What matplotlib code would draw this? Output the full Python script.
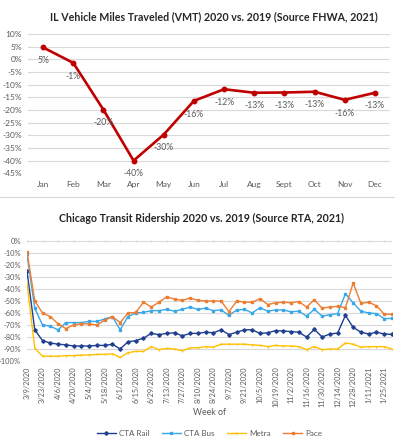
import matplotlib.pyplot as plt
from matplotlib.lines import Line2D

# --- IL VMT data (2020 vs 2019, %) ---
months = ["Jan", "Feb", "Mar", "Apr", "May", "Jun", "Jul", "Aug", "Sept", "Oct", "Nov", "Dec"]
vmt = [4.7, -1.4, -19.9, -40.0, -29.7, -16.4, -11.8, -13.2, -13.1, -12.8, -16.0, -13.2]

# --- Chicago transit ridership (weekly, 2020 vs 2019, %) ---
week_labels = ["3/9/2020", "3/23/2020", "4/6/2020", "4/20/2020", "5/4/2020", "5/18/2020",
               "6/1/2020", "6/15/2020", "6/29/2020", "7/13/2020", "7/27/2020", "8/10/2020",
               "8/24/2020", "9/7/2020", "9/21/2020", "10/5/2020", "10/19/2020", "11/2/2020",
               "11/16/2020", "11/30/2020", "12/14/2020", "12/28/2020", "1/11/2021", "1/25/2021"]

cta_rail = [-25, -74, -83, -85, -86, -86.5, -87.5, -87.5, -87.5, -87, -87, -86, -90, -84, -83, -81,
            -77, -78, -77, -76.5, -79, -77, -77, -76, -76.5, -74, -78, -76, -74, -74, -77, -76.5,
            -74.7, -75, -75.5, -76, -80, -73.6, -80, -77.5, -76.7, -62, -72, -76, -77.5, -76, -77.5, -77.8]
cta_bus = [-11, -56, -70, -71, -74, -68, -68, -68, -67, -67, -65, -63, -74, -63, -60, -59.5,
           -58, -58, -57, -58.5, -57, -55, -57, -56, -58, -57.5, -62, -57.5, -57, -60, -55.5, -58.5,
           -57.5, -57.5, -59, -58.5, -62.5, -57, -62.5, -61.5, -60.5, -44, -51.5, -58.5, -60, -60.5, -64.7, -64.5]
metra = [-35, -89.5, -96, -96, -96, -95.5, -95.5, -95, -95, -94.5, -94.5, -94, -97, -93, -92, -92,
         -88, -90.5, -89.5, -90, -91.5, -89, -89, -88, -88.5, -86, -86, -86, -86, -86.5, -87, -88,
         -87, -87.5, -87.5, -88, -90.5, -88, -90.5, -90, -90, -85, -86, -88.5, -88, -88, -88, -90]
pace = [-9, -50, -60, -63, -69, -73, -70, -69, -69, -70, -66, -63, -68, -60, -59.5, -51,
        -55, -51, -46.5, -48.5, -49.5, -47.5, -49.5, -50, -50, -50, -59, -50, -51, -51, -48, -53,
        -51.5, -51, -51.5, -50.5, -55, -49, -56, -55, -54.5, -55.5, -35, -52, -51, -54, -61, -61]

plt.rcParams['font.family'] = ['Lato', 'DejaVu Sans']
grey = '#595959'
grid = '#D9D9D9'

fig = plt.figure(figsize=(3.95, 4.43), dpi=100)

# ---------- top chart ----------
ax1 = fig.add_axes([28/395, 1-173.3/443, 362/395, 139.3/443])
xs = list(range(len(months)))
ax1.plot(xs, vmt, color='#C00000', lw=1.9, marker='o', ms=3.2, zorder=3)
for x, v in zip(xs, vmt):
    ax1.annotate(f"{round(v):d}%", (x, v), xytext=(0, -9.5), textcoords='offset points',
                 ha='center', va='center', fontsize=6.2, color=grey)
ax1.set_xlim(-0.5, 11.5)
ax1.set_ylim(-45, 10)
ax1.set_yticks(range(-45, 11, 5))
ax1.set_yticklabels([f"{t}%" for t in range(-45, 11, 5)])
ax1.set_xticks(xs)
ax1.set_xticklabels(months)
ax1.grid(axis='y', color=grid, lw=0.8)
ax1.set_axisbelow(True)
for s in ax1.spines.values():
    s.set_visible(False)
ax1.tick_params(axis='both', length=0, labelsize=6.0, labelcolor=grey)
ax1.tick_params(axis='y', pad=4.3)
ax1.tick_params(axis='x', pad=5.5)
ax1.set_title("IL Vehicle Miles Traveled (VMT) 2020 vs. 2019 (Source FHWA, 2021)",
              fontsize=7.7, fontweight='bold', color='#262626', x=0.514, pad=10)

# separator line between the two charts
fig.add_artist(Line2D([0, 1], [1-197/443, 1-197/443], color=grid, lw=0.8))

# ---------- bottom chart ----------
ax2 = fig.add_axes([27/395, 1-361/443, 365/395, 120/443])
wk = list(range(len(cta_rail)))
ax2.plot(wk, cta_rail, color='#203F8F', lw=1.0, marker='D', ms=1.8, label='CTA Rail', zorder=3)
ax2.plot(wk, cta_bus, color='#38A8E8', lw=1.0, marker='s', ms=1.8, label='CTA Bus', zorder=3)
ax2.plot(wk, metra, color='#FFC000', lw=1.0, marker='|', ms=2.0, label='Metra', zorder=3)
ax2.plot(wk, pace, color='#ED7D31', lw=1.0, marker='s', ms=1.8, label='Pace', zorder=3)
ax2.set_xlim(0, len(wk) - 1)
ax2.set_ylim(-100, 0)
ax2.set_yticks(range(-100, 1, 10))
ax2.set_yticklabels([f"{t}%" for t in range(-100, 1, 10)])
ax2.set_xticks(range(0, len(wk), 2))
ax2.set_xticklabels(week_labels, rotation=90)
ax2.grid(axis='y', color=grid, lw=0.8)
ax2.set_axisbelow(True)
for s in ax2.spines.values():
    s.set_visible(False)
ax2.tick_params(axis='y', length=0, labelsize=5.4, labelcolor=grey, pad=4.3)
ax2.tick_params(axis='x', bottom=False, top=True, labelbottom=True, labeltop=False,
                length=2, direction='inout', color=grid, labelsize=5.3, labelcolor=grey, pad=3)
ax2.set_xlabel("Week of", fontsize=6.3, color=grey)
ax2.xaxis.set_label_coords(0.5, -0.395)
ax2.set_title("Chicago Transit Ridership 2020 vs. 2019 (Source RTA, 2021)",
              fontsize=7.7, fontweight='bold', color='#262626', x=0.478, pad=14)
ax2.legend(loc='center', bbox_to_anchor=(0.5, -0.6), ncol=4, frameon=False,
           fontsize=5.8, labelcolor=grey, handlelength=2.4, columnspacing=1.5, handletextpad=0.4)

fig.savefig('out.png', dpi=100, facecolor='white')
